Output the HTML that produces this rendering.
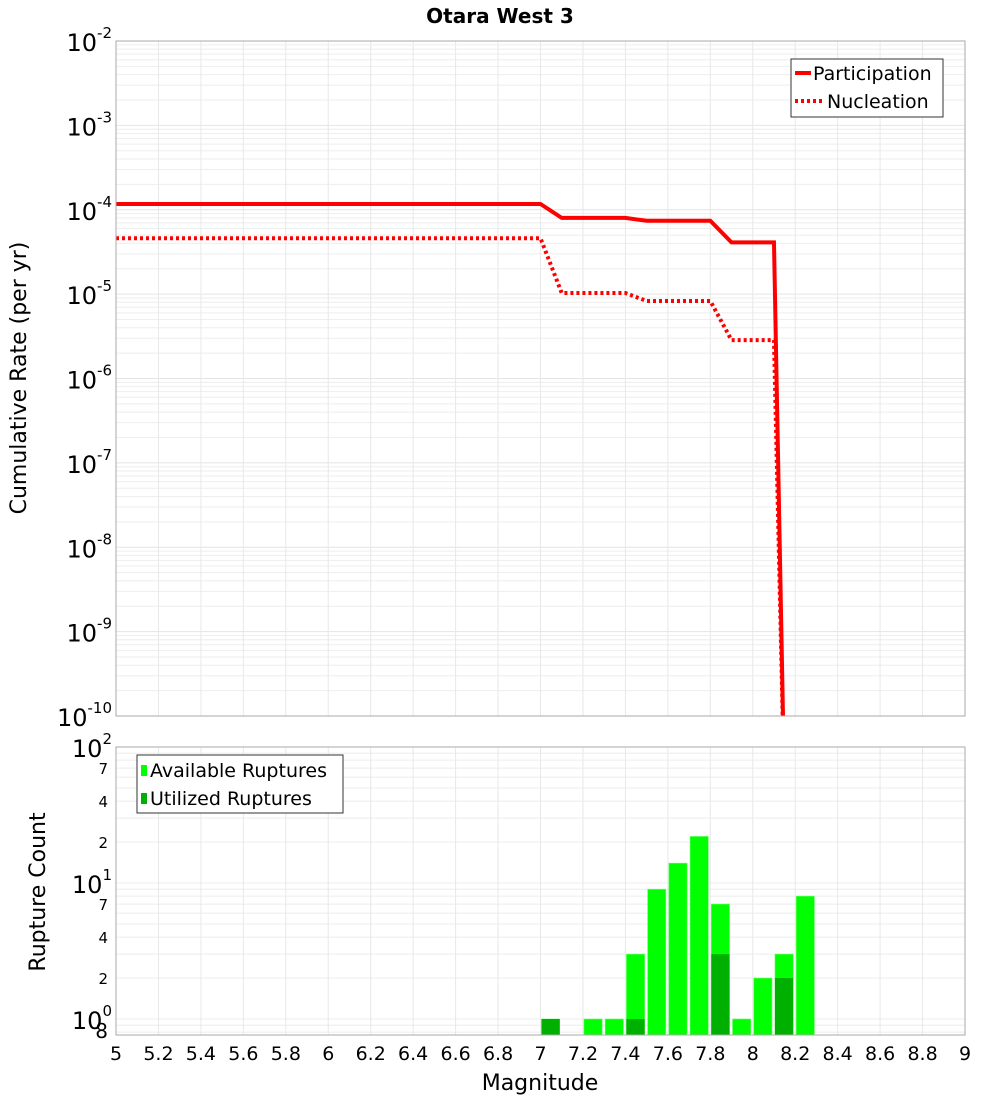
<!DOCTYPE html>
<html><head><meta charset="utf-8"><style>
body{margin:0;background:#fff;font-family:"Liberation Sans","DejaVu Sans",sans-serif;}
svg text{font-family:"DejaVu Sans","Liberation Sans",sans-serif;}
</style></head><body>
<svg id="chart" width="1000" height="1100" xmlns="http://www.w3.org/2000/svg">
<text x="500" y="23" text-anchor="middle" font-size="20" font-weight="bold">Otara West 3</text>
<g id="topg"></g>
<g id="botg"></g>
</svg>
<script>
const partMags=[5,7.0,7.1,7.4,7.5,7.8,7.9,8.1,8.15];
const partRates=[1.17e-4,1.17e-4,8e-5,8e-5,7.4e-5,7.4e-5,4.1e-5,4.1e-5,1e-11];
const nuclMags=[5,7.0,7.1,7.4,7.5,7.8,7.9,8.1,8.15];
const nuclRates=[4.6e-5,4.6e-5,1.03e-5,1.03e-5,8.3e-6,8.3e-6,2.85e-6,2.85e-6,1e-11];
const binMags=[7.0,7.2,7.3,7.4,7.5,7.6,7.7,7.8,7.9,8.0,8.1,8.2];
const availCounts=[1,1,1,3,9,14,22,7,1,2,3,8];
const usedCounts=[1,0,0,1,0,0,0,3,0,0,2,0];
const xTicks=[5,5.2,5.4,5.6,5.8,6,6.2,6.4,6.6,6.8,7,7.2,7.4,7.6,7.8,8,8.2,8.4,8.6,8.8,9];
const topExps=[-2,-3,-4,-5,-6,-7,-8,-9,-10];

const NS="http://www.w3.org/2000/svg";
const L=116,R=965;
const X=m=>L+(m-5)/4*(R-L);
const T0=41,T1=716;
const YT=v=>T0+(-2-Math.log10(v))/8*(T1-T0);
const B0=747,B1=1035,BPD=136;
const YB=v=>B0+(2-Math.log10(v))*BPD;
function mk(p,tag,a){const e=document.createElementNS(NS,tag);for(const k in a)e.setAttribute(k,a[k]);p.appendChild(e);return e;}
const topG=document.getElementById('topg'),botG=document.getElementById('botg');

for(let e=-10;e<-2;e++)for(let k=1;k<10;k++){const y=YT(k*Math.pow(10,e));
 const g=mk(topG,'line',{x1:L,x2:R,y1:y,y2:y,stroke:k==1?'#e4e4e4':'#eeeeee','stroke-width':1});
 
 }
xTicks.forEach(m=>{const g=mk(topG,'line',{x1:X(m),x2:X(m),y1:T0,y2:T1,stroke:'#e8e8e8'});
 
 });
topExps.forEach(e=>{const t=mk(topG,'text',{x:112,y:YT(Math.pow(10,e))+10,'text-anchor':'end','font-size':24});
 
 
 t.innerHTML='10<tspan dy="-13" font-size="15">'+e+'</tspan>';});
const cp=mk(topG,'clipPath',{id:'ct'});
mk(cp,'rect',{x:L,y:T0,width:R-L,height:T1-T0});
const pp=mk(topG,'polyline',{points:partMags.map((m,i)=>X(m)+','+YT(partRates[i])).join(' '),fill:'none',stroke:'#ff0000','stroke-width':4,'clip-path':'url(#ct)'});


const np=mk(topG,'polyline',{points:nuclMags.map((m,i)=>X(m)+','+YT(nuclRates[i])).join(' '),fill:'none',stroke:'#ff0000','stroke-width':4,'stroke-dasharray':'3 3','clip-path':'url(#ct)'});


const tb=mk(topG,'rect',{x:L,y:T0,width:R-L,height:T1-T0,fill:'none',stroke:'#aaa'});


const yt=mk(topG,'text',{x:0,y:0,transform:'translate(26,378) rotate(-90)','text-anchor':'middle','font-size':22});


yt.textContent='Cumulative Rate (per yr)';
const lg=mk(topG,'g',{});


mk(lg,'rect',{x:791,y:59,width:152,height:58,fill:'#fff',stroke:'#333'});
mk(lg,'line',{x1:795,x2:811,y1:73,y2:73,stroke:'#f00','stroke-width':4});
mk(lg,'line',{x1:795,x2:823,y1:101,y2:101,stroke:'#f00','stroke-width':4,'stroke-dasharray':'3 3'});
let t=mk(lg,'text',{x:813,y:80,'font-size':19});t.textContent='Participation';
t=mk(lg,'text',{x:827,y:108,'font-size':19});t.textContent='Nucleation';

for(let e=-1;e<2;e++)for(let k=1;k<10;k++){const v=k*Math.pow(10,e);const y=YB(v);if(y>B1||y<B0)continue;
 const g=mk(botG,'line',{x1:L,x2:R,y1:y,y2:y,stroke:'#ececec'});
 
 }
xTicks.forEach(m=>{const g=mk(botG,'line',{x1:X(m),x2:X(m),y1:B0,y2:B1,stroke:'#e8e8e8'});
 
 
 const tx=mk(botG,'text',{x:X(m),y:1060,'text-anchor':'middle','font-size':19});
 
 
 tx.textContent=String(m);});
[[100,'10','2'],[10,'10','1'],[1,'10','0']].forEach(([v,b,s])=>{const tx=mk(botG,'text',{x:112,y:YB(v)+10,'text-anchor':'end','font-size':24});
 
 
 tx.innerHTML=b+'<tspan dy="-13" font-size="15">'+s+'</tspan>';});
[[70,'7'],[40,'4'],[20,'2'],[7,'7'],[4,'4'],[2,'2'],[0.8,'8']].forEach(([v,s])=>{const tx=mk(botG,'text',{x:108,y:YB(v)+6,'text-anchor':'end','font-size':v==0.8?20:15});
 
 
 tx.textContent=s;});
binMags.forEach((m,i)=>{const x0=X(m)+1,w=X(m+0.1)-X(m)-3;
 const b=mk(botG,'rect',{x:x0,y:YB(availCounts[i]),width:w,height:B1-YB(availCounts[i]),fill:'#00ff00',stroke:'#66ff66','stroke-width':0.6});
 
 
 if(usedCounts[i]>0){const u=mk(botG,'rect',{x:x0,y:YB(usedCounts[i]),width:w,height:B1-YB(usedCounts[i]),fill:'#00b000'});
 
 }});
const bb=mk(botG,'rect',{x:L,y:B0,width:R-L,height:B1-B0,fill:'none',stroke:'#aaa'});


const yb=mk(botG,'text',{x:0,y:0,transform:'translate(45,892) rotate(-90)','text-anchor':'middle','font-size':22});


yb.textContent='Rupture Count';
const xt=mk(botG,'text',{x:540,y:1090,'text-anchor':'middle','font-size':22});


xt.textContent='Magnitude';
const lb=mk(botG,'g',{});


mk(lb,'rect',{x:137,y:755,width:206,height:58,fill:'#fff',stroke:'#333'});
mk(lb,'rect',{x:141,y:765,width:6,height:11,fill:'#00ff00'});
mk(lb,'rect',{x:141,y:793,width:6,height:11,fill:'#00b000'});
t=mk(lb,'text',{x:150,y:777,'font-size':19});t.textContent='Available Ruptures';
t=mk(lb,'text',{x:150,y:805,'font-size':19});t.textContent='Utilized Ruptures';
</script>
</body></html>
